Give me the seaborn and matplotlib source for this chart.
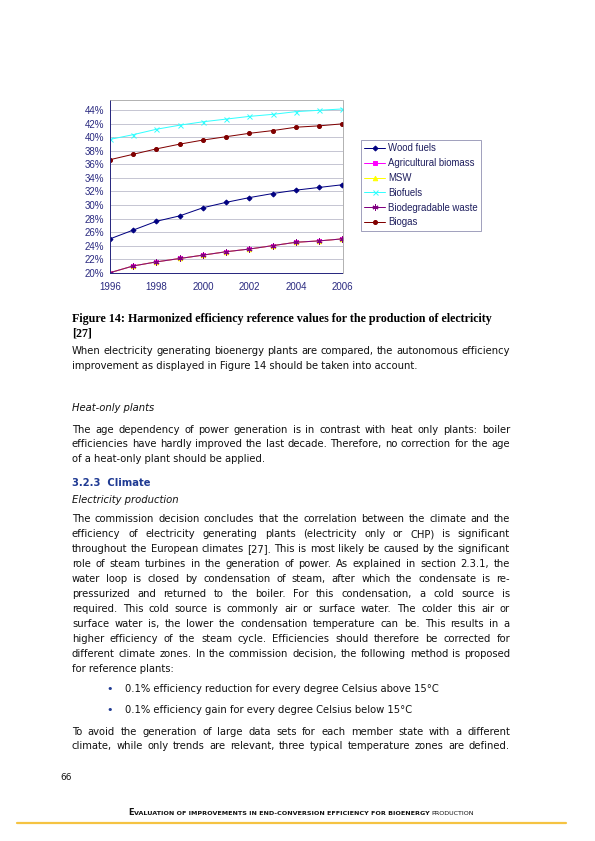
import numpy as np
import pandas as pd
import seaborn as sns
import matplotlib.pyplot as plt
from matplotlib.ticker import PercentFormatter

W, H = 595, 841

# data
years = [1996, 1997, 1998, 1999, 2000, 2001, 2002, 2003, 2004, 2005, 2006]
wood_fuels = [25.0, 26.3, 27.6, 28.4, 29.6, 30.4, 31.1, 31.7, 32.2, 32.6, 33.0]
agri_biomass = [20.0, 21.0, 21.6, 22.1, 22.6, 23.1, 23.5, 24.0, 24.5, 24.7, 25.0]
msw = [20.0, 21.0, 21.6, 22.1, 22.6, 23.1, 23.5, 24.0, 24.5, 24.7, 25.0]
biofuels = [39.7, 40.4, 41.2, 41.8, 42.3, 42.7, 43.1, 43.4, 43.8, 44.0, 44.2]
biodeg_waste = [20.0, 21.0, 21.6, 22.1, 22.6, 23.1, 23.5, 24.0, 24.5, 24.7, 25.0]
biogas = [36.7, 37.5, 38.3, 39.0, 39.6, 40.1, 40.6, 41.0, 41.5, 41.7, 42.0]

series_names = ['Wood fuels', 'Agricultural biomass', 'MSW', 'Biofuels',
                'Biodegradable waste', 'Biogas']
series_vals = [wood_fuels, agri_biomass, msw, biofuels, biodeg_waste, biogas]
colors = ['#000080', '#FF00FF', '#FFFF00', '#33FFFF', '#800080', '#800000']
markers = ['D', 's', '^', 'x', (6, 2, 0), 'o']
msizes = [3.5, 4, 4.5, 5, 6, 4]

navy = '#2a2a80'

sns.set_theme(style='white')
plt.rcParams['font.family'] = ['DejaVu Sans']

fig = plt.figure(figsize=(W / 72, H / 72), dpi=72)
renderer = fig.canvas.get_renderer()


def fx(x):
    return x / W


def fy(y):
    return 1 - y / H


# ---- chart ----
left, right, top, bottom = 110, 342.5, 100, 272.7
ax = fig.add_axes([fx(left), fy(bottom), (right - left) / W, (bottom - top) / H])

for name, vals, c, m, ms in zip(series_names, series_vals, colors, markers, msizes):
    df = pd.DataFrame({'year': years, 'eff': vals})
    sns.lineplot(data=df, x='year', y='eff', ax=ax, color=c, marker=m,
                 markersize=ms, markeredgecolor=c, markerfacecolor=c,
                 markeredgewidth=1, linewidth=1, label=name, legend=False)

ax.set_xlim(1996, 2006)
ax.set_ylim(20, 45.52)
ax.set_xticks(np.arange(1996, 2007, 2))
ax.set_yticks(np.arange(20, 45, 2))
ax.yaxis.set_major_formatter(PercentFormatter(decimals=0))
ax.set_xlabel('')
ax.set_ylabel('')
ax.grid(axis='y', color='#b8b8c8', linewidth=0.8)
ax.grid(axis='x', visible=False)
for s in ['left', 'bottom']:
    ax.spines[s].set_color(navy)
    ax.spines[s].set_linewidth(1)
for s in ['top', 'right']:
    ax.spines[s].set_color('#a0a0a0')
    ax.spines[s].set_linewidth(0.8)
ax.tick_params(axis='both', direction='out', length=4, width=0.8, color=navy,
               labelcolor=navy, labelsize=9.8, pad=2)
ax.tick_params(axis='x', pad=5)
for lab in ax.get_xticklabels() + ax.get_yticklabels():
    lab.set_family('Liberation Sans')

handles, labels = ax.get_legend_handles_labels()
leg = fig.legend(handles, labels, loc='upper left',
                 bbox_to_anchor=(fx(361), fy(140)), bbox_transform=fig.transFigure,
                 frameon=True, fancybox=False, edgecolor='#6e6e9a',
                 borderpad=0.35, borderaxespad=0, handlelength=2.2,
                 handletextpad=0.3, labelspacing=0.5,
                 prop={'family': 'Liberation Sans', 'size': 9.6})
leg.get_frame().set_linewidth(0.8)
for t in leg.get_texts():
    t.set_color('#1e1e5e')


# ---- page text ----
def put(x, y, s, **kw):
    return fig.text(fx(x), fy(y), s, va='baseline', **kw)


def width_of(s, **kw):
    t = put(0, 0, s, **kw)
    w = t.get_window_extent(renderer).width
    t.remove()
    return w


def justified(x0, x1, y, s, **kw):
    words = s.split(' ')
    arts = [put(0, y, w, **kw) for w in words]
    widths = [a.get_window_extent(renderer).width for a in arts]
    gap = (x1 - x0 - sum(widths)) / max(len(words) - 1, 1)
    x = x0
    for a, w in zip(arts, widths):
        a.set_x(fx(x))
        x += w + gap


TL, TR = 72, 510

para1 = ['When electricity generating bioenergy plants are compared, the autonomous efficiency',
         'improvement as displayed in Figure 14 should be taken into account.']
para2 = ['The age dependency of power generation is in contrast with heat only plants: boiler',
         'efficiencies have hardly improved the last decade. Therefore, no correction for the age',
         'of a heat-only plant should be applied.']
para3 = ['The commission decision concludes that the correlation between the climate and the',
         'efficiency of electricity generating plants (electricity only or CHP) is significant',
         'throughout the European climates [27]. This is most likely be caused by the significant',
         'role of steam turbines in the generation of power. As explained in section 2.3.1, the',
         'water loop is closed by condensation of steam, after which the condensate is re-',
         'pressurized and returned to the boiler. For this condensation, a cold source is',
         'required. This cold source is commonly air or surface water. The colder this air or',
         'surface water is, the lower the condensation temperature can be. This results in a',
         'higher efficiency of the steam cycle. Efficiencies should therefore be corrected for',
         'different climate zones. In the commission decision, the following method is proposed',
         'for reference plants:']
bullets = ['0.1% efficiency reduction for every degree Celsius above 15°C',
           '0.1% efficiency gain for every degree Celsius below 15°C']
para4 = ['To avoid the generation of large data sets for each member state with a different',
         'climate, while only trends are relevant, three typical temperature zones are defined.']
caption = ['Figure 14: Harmonized efficiency reference values for the production of electricity',
           '[27]']

# size the body font so the tightest justified line sits at normal spacing
widest = max(width_of(s, fontsize=10, family='DejaVu Sans')
             for s in [para1[0], para2[0], para2[1], para4[0], para4[1]] + para3[:-1])
bsize = 10 * (TR - TL - 2) / widest
body = dict(fontsize=bsize, color='#111111', family='DejaVu Sans')

cap_kw = dict(weight='bold', family='Liberation Serif', color='black')
csize = 12 * 420 / width_of(caption[0], fontsize=12, **cap_kw)
put(TL, 322, caption[0], fontsize=csize, **cap_kw)
put(TL, 336.5, caption[1], fontsize=csize, **cap_kw)

justified(TL, TR, 354.5, para1[0], **body)
put(TL, 369.5, para1[1], **body)

put(TL, 410.5, 'Heat-only plants', style='italic', **body)

para2_y = [433, 447, 461.5]
justified(TL, TR, para2_y[0], para2[0], **body)
justified(TL, TR, para2_y[1], para2[1], **body)
put(TL, para2_y[2], para2[2], **body)

put(TL, 485.5, '3.2.3  Climate', fontsize=bsize, weight='bold', color='#1f3a93',
    family='DejaVu Sans')
put(TL, 503, 'Electricity production', style='italic', **body)

for i, line in enumerate(para3):
    y = 522.3 + 15 * i
    if i < len(para3) - 1:
        justified(TL, TR, y, line, **body)
    else:
        put(TL, y, line, **body)

for y, b in zip([692.3, 713], bullets):
    put(106.5, y, '•', fontsize=11, color='#1f3a93', family='DejaVu Sans')
    put(125, y, b, **body)

justified(TL, TR, 734.7, para4[0], **body)
justified(TL, TR, 749, para4[1], **body)

put(60, 780, '66', fontsize=9, color='#111111', family='DejaVu Sans')

# footer in small caps, fitted to its measured span
footer_parts = [('E', 1.3, 'bold'),
                ('VALUATION OF IMPROVEMENTS IN END-CONVERSION EFFICIENCY FOR BIOENERGY ', 1.0, 'bold'),
                ('PRODUCTION', 1.0, 'normal')]
base = 6.0
natural = sum(width_of(s, fontsize=base * k, weight=wt, family='DejaVu Sans')
              for s, k, wt in footer_parts)
base = base * 338 / natural
x = 128
for s, k, wt in footer_parts:
    a = put(x, 815, s, fontsize=base * k, weight=wt, color='#111111', family='DejaVu Sans')
    x += a.get_window_extent(renderer).width

fig.add_artist(plt.Line2D([fx(17), fx(566)], [fy(822.7), fy(822.7)],
                          color='#f5c342', linewidth=2.2, transform=fig.transFigure))

fig.savefig('out.png', dpi=72, facecolor='white')
